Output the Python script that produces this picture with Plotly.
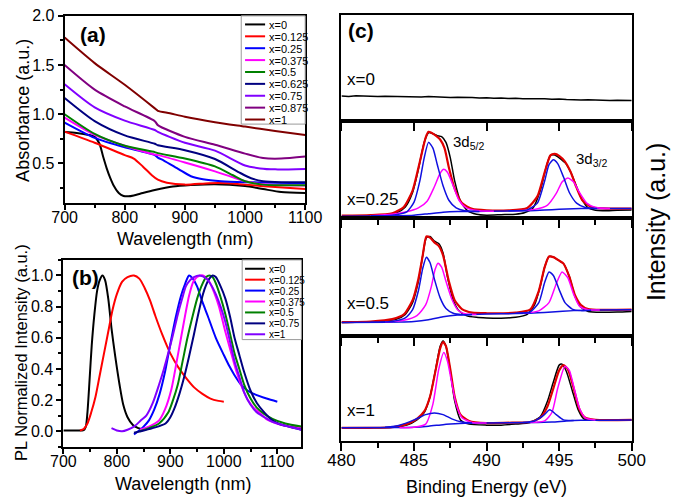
import plotly.graph_objects as go

W, H = 685, 499
FONT = "Arial, 'Liberation Sans', sans-serif"

# ---------------- Panel (a): absorbance ----------------
abs_names = ["x=0", "x=0.125", "x=0.25", "x=0.375", "x=0.5", "x=0.625", "x=0.75", "x=0.875", "x=1"]
abs_colors = ["#000000", "#ff0000", "#0000ff", "#ff00ff", "#008000", "#000080", "#8000ff", "#800080", "#800000"]

abs_wl_0 = [700, 720, 740, 750, 758, 764, 770, 776, 782, 790, 798, 806, 815, 830, 850, 880, 910, 950, 1000, 1030, 1060, 1100]
abs_0 = [0.82, 0.81, 0.79, 0.77, 0.70, 0.57, 0.45, 0.35, 0.27, 0.20, 0.17, 0.166, 0.175, 0.20, 0.23, 0.265, 0.28, 0.29, 0.27, 0.24, 0.21, 0.20]
abs_wl_0125 = [700, 750, 800, 815, 830, 845, 855, 870, 900, 940, 970, 1000, 1050, 1100]
abs_0125 = [0.823, 0.71, 0.585, 0.55, 0.47, 0.38, 0.335, 0.305, 0.285, 0.30, 0.30, 0.285, 0.26, 0.24]
abs_wl_025 = [700, 750, 800, 830, 850, 855, 865, 890, 910, 930, 960, 1000, 1050, 1100]
abs_025 = [0.915, 0.76, 0.665, 0.62, 0.585, 0.56, 0.53, 0.44, 0.37, 0.34, 0.32, 0.31, 0.305, 0.30]
abs_wl_0375 = [700, 750, 800, 850, 855, 900, 950, 980, 1000, 1030, 1060, 1100]
abs_0375 = [0.965, 0.79, 0.68, 0.59, 0.585, 0.51, 0.42, 0.36, 0.32, 0.29, 0.28, 0.275]
abs_wl_05 = [700, 750, 800, 850, 855, 900, 950, 980, 1000, 1030, 1060, 1100]
abs_05 = [1.0, 0.80, 0.68, 0.615, 0.605, 0.55, 0.47, 0.38, 0.32, 0.285, 0.278, 0.278]
abs_wl_0625 = [700, 750, 800, 850, 855, 900, 950, 990, 1010, 1030, 1060, 1100]
abs_0625 = [1.165, 0.93, 0.785, 0.70, 0.685, 0.635, 0.545, 0.41, 0.35, 0.32, 0.31, 0.31]
abs_wl_075 = [700, 750, 800, 850, 855, 900, 950, 1000, 1025, 1050, 1100]
abs_075 = [1.305, 1.07, 0.935, 0.84, 0.82, 0.71, 0.63, 0.48, 0.45, 0.44, 0.445]
abs_wl_0875 = [700, 750, 800, 850, 855, 900, 950, 1000, 1030, 1060, 1100]
abs_0875 = [1.50, 1.25, 1.08, 0.93, 0.89, 0.77, 0.69, 0.60, 0.555, 0.55, 0.57]
abs_wl_1 = [700, 750, 800, 850, 855, 875, 900, 950, 1000, 1050, 1100]
abs_1 = [1.78, 1.52, 1.30, 1.06, 1.035, 1.01, 0.975, 0.92, 0.875, 0.83, 0.79]

abs_series = [(abs_wl_0, abs_0), (abs_wl_0125, abs_0125), (abs_wl_025, abs_025), (abs_wl_0375, abs_0375),
              (abs_wl_05, abs_05), (abs_wl_0625, abs_0625), (abs_wl_075, abs_075), (abs_wl_0875, abs_0875),
              (abs_wl_1, abs_1)]

# ---------------- Panel (b): PL ----------------
pl_names = ["x=0", "x=0.125", "x=0.25", "x=0.375", "x=0.5", "x=0.75", "x=1"]
pl_colors = ["#000000", "#ff0000", "#0000ff", "#ff00ff", "#008000", "#000080", "#8000ff"]

pl_wl_0 = [700, 725, 738, 742, 745, 749, 753, 758, 763, 768, 773, 778, 784, 790, 797, 805, 812, 820, 830, 840, 855]
pl_0 = [0.005, 0.005, 0.008, 0.03, 0.12, 0.33, 0.55, 0.75, 0.9, 0.97, 1.0, 0.97, 0.85, 0.66, 0.48, 0.3, 0.17, 0.09, 0.04, 0.02, 0.01]
pl_wl_0125 = [731, 738, 745, 752, 760, 768, 776, 784, 792, 800, 810, 820, 832, 842, 852, 862, 872, 885, 900, 915, 930, 945, 960, 975, 990, 1000]
pl_0125 = [0.005, 0.015, 0.05, 0.12, 0.22, 0.36, 0.5, 0.64, 0.78, 0.88, 0.96, 0.99, 1.0, 0.98, 0.92, 0.84, 0.74, 0.62, 0.5, 0.41, 0.34, 0.28, 0.24, 0.21, 0.195, 0.19]
pl_wl_025 = [832, 840, 850, 860, 870, 880, 890, 900, 910, 920, 928, 935, 942, 950, 960, 970, 985, 1000, 1010, 1020, 1032, 1045, 1056, 1080, 1100]
pl_025 = [-0.02, 0.0, 0.03, 0.07, 0.14, 0.24, 0.38, 0.56, 0.73, 0.87, 0.95, 1.0, 0.98, 0.93, 0.83, 0.74, 0.6, 0.49, 0.42, 0.36, 0.3, 0.26, 0.24, 0.21, 0.19]
pl_wl_0375 = [843, 860, 879, 890, 902, 912, 920, 928, 935, 943, 950, 961, 973, 982, 991, 1002, 1014, 1023, 1032, 1045, 1056, 1070, 1079, 1095, 1109, 1125, 1145]
pl_0375 = [0.01, 0.03, 0.07, 0.14, 0.27, 0.45, 0.6, 0.75, 0.87, 0.96, 0.99, 1.0, 0.96, 0.89, 0.8, 0.65, 0.5, 0.39, 0.3, 0.2, 0.15, 0.11, 0.08, 0.055, 0.04, 0.03, 0.02]
pl_wl_05 = [843, 860, 879, 896, 905, 914, 923, 932, 941, 950, 958, 967, 973, 979, 985, 994, 1003, 1012, 1020, 1029, 1038, 1050, 1062, 1076, 1091, 1115, 1145]
pl_05 = [0.0, 0.02, 0.05, 0.12, 0.2, 0.3, 0.45, 0.6, 0.73, 0.85, 0.93, 0.99, 1.0, 0.99, 0.95, 0.86, 0.75, 0.62, 0.5, 0.4, 0.3, 0.21, 0.15, 0.11, 0.08, 0.05, 0.03]
pl_wl_075 = [832, 845, 867, 891, 900, 908, 917, 926, 935, 944, 952, 961, 967, 973, 979, 985, 994, 1003, 1012, 1020, 1029, 1038, 1050, 1062, 1076, 1091, 1105, 1121, 1145]
pl_075 = [-0.01, 0.0, 0.02, 0.05, 0.09, 0.15, 0.24, 0.35, 0.48, 0.62, 0.75, 0.88, 0.94, 0.98, 1.0, 0.99, 0.93, 0.85, 0.73, 0.6, 0.49, 0.38, 0.26, 0.18, 0.12, 0.07, 0.045, 0.03, 0.01]
pl_wl_1 = [790, 800, 810, 820, 832, 845, 855, 867, 879, 888, 896, 905, 914, 922, 929, 937, 944, 955, 967, 976, 985, 994, 1003, 1012, 1020, 1029, 1038, 1050, 1062, 1076, 1091, 1105, 1121, 1145]
pl_1 = [0.02, 0.005, 0.0, 0.01, 0.03, 0.07, 0.1, 0.18, 0.3, 0.4, 0.5, 0.62, 0.75, 0.85, 0.93, 0.97, 0.99, 1.0, 0.98, 0.94, 0.88, 0.8, 0.7, 0.57, 0.45, 0.35, 0.25, 0.17, 0.12, 0.09, 0.06, 0.045, 0.03, 0.01]

pl_series = [(pl_wl_0, pl_0), (pl_wl_0125, pl_0125), (pl_wl_025, pl_025), (pl_wl_0375, pl_0375),
             (pl_wl_05, pl_05), (pl_wl_075, pl_075), (pl_wl_1, pl_1)]

# ---------------- Panel (c): XPS (intensity in panel-height units) ----------------
xps_labels = ["x=0", "x=0.25", "x=0.5", "x=1"]

be_x0 = [480 + 0.5 * i for i in range(41)]
int_x0 = [0.236, 0.232, 0.238, 0.234, 0.236, 0.231, 0.235, 0.233, 0.229, 0.232, 0.230, 0.227, 0.231, 0.226,
          0.228, 0.222, 0.225, 0.220, 0.222, 0.218, 0.221, 0.216, 0.219, 0.214, 0.216, 0.211, 0.213, 0.209,
          0.211, 0.206, 0.208, 0.203, 0.205, 0.200, 0.202, 0.198, 0.199, 0.195, 0.197, 0.193, 0.194]

# x = 0.25
be_025_data = [480, 481, 482, 483, 483.8, 484.4, 484.9, 485.3, 485.7, 486.0, 486.3, 486.6, 486.9, 487.2, 487.5, 487.8, 488.2, 488.7, 489.3, 490, 491, 492, 492.6, 493.2, 493.7, 494.1, 494.4, 494.7, 495.0, 495.4, 495.8, 496.2, 496.6, 497.0, 497.5, 498, 499, 500]
int_025_data = [0.010, 0.012, 0.015, 0.025, 0.05, 0.11, 0.26, 0.5, 0.78, 0.88, 0.87, 0.85, 0.84, 0.78, 0.62, 0.38, 0.17, 0.07, 0.035, 0.025, 0.03, 0.035, 0.05, 0.10, 0.28, 0.52, 0.645, 0.65, 0.62, 0.57, 0.47, 0.32, 0.18, 0.10, 0.075, 0.07, 0.075, 0.078]
be_025_fit = [480, 482, 483.5, 484.3, 484.9, 485.4, 485.8, 486.0, 486.2, 486.5, 486.8, 487.1, 487.4, 487.8, 488.3, 489, 490, 491.5, 492.8, 493.5, 494.0, 494.4, 494.7, 495.0, 495.4, 495.8, 496.2, 496.6, 497.2, 498, 500]
int_025_fit = [0.02, 0.025, 0.045, 0.11, 0.28, 0.58, 0.83, 0.89, 0.88, 0.85, 0.81, 0.72, 0.52, 0.30, 0.15, 0.09, 0.075, 0.075, 0.1, 0.22, 0.47, 0.645, 0.66, 0.64, 0.58, 0.47, 0.31, 0.18, 0.11, 0.095, 0.092]
be_025_bg = [480, 484, 485, 486, 487, 488, 490, 493, 494, 495, 496, 497, 500]
int_025_bg = [0.015, 0.02, 0.025, 0.04, 0.055, 0.062, 0.066, 0.072, 0.078, 0.086, 0.092, 0.094, 0.094]
be_025_b1 = [482, 483.5, 484.5, 485.0, 485.4, 485.7, 486.0, 486.3, 486.6, 487.0, 487.4, 487.9, 488.5, 489.5]
int_025_b1 = [0.018, 0.025, 0.06, 0.16, 0.38, 0.62, 0.78, 0.72, 0.55, 0.33, 0.18, 0.1, 0.07, 0.064]
be_025_m1 = [482, 483.5, 484.5, 485.3, 485.9, 486.4, 486.8, 487.05, 487.3, 487.7, 488.1, 488.6, 489.5, 490.5]
int_025_m1 = [0.02, 0.035, 0.06, 0.1, 0.17, 0.32, 0.46, 0.50, 0.47, 0.33, 0.18, 0.1, 0.07, 0.066]
be_025_b2 = [491.5, 492.8, 493.5, 494.0, 494.3, 494.6, 494.9, 495.3, 495.7, 496.2, 496.8, 497.6]
int_025_b2 = [0.07, 0.08, 0.15, 0.38, 0.55, 0.60, 0.56, 0.42, 0.26, 0.15, 0.105, 0.094]
be_025_m2 = [492, 493.3, 494.2, 494.8, 495.2, 495.6, 496.0, 496.4, 496.9, 497.5, 498.5]
int_025_m2 = [0.072, 0.085, 0.13, 0.25, 0.37, 0.41, 0.37, 0.26, 0.15, 0.105, 0.094]

# x = 0.5
be_05_data = [480, 481, 482, 483, 483.8, 484.4, 484.9, 485.3, 485.6, 485.85, 486.1, 486.4, 486.7, 487.0, 487.3, 487.7, 488.1, 488.6, 489.3, 490, 491, 492, 492.8, 493.3, 493.7, 494.0, 494.3, 494.6, 495.0, 495.3, 495.7, 496.1, 496.5, 497, 498, 499, 500]
int_05_data = [0.112, 0.113, 0.115, 0.12, 0.14, 0.18, 0.28, 0.46, 0.68, 0.83, 0.84, 0.80, 0.78, 0.70, 0.50, 0.30, 0.21, 0.17, 0.155, 0.15, 0.148, 0.155, 0.18, 0.26, 0.42, 0.58, 0.67, 0.665, 0.635, 0.61, 0.5, 0.33, 0.24, 0.205, 0.198, 0.20, 0.205]
be_05_fit = [480, 482, 483.5, 484.3, 484.9, 485.3, 485.6, 485.85, 486.1, 486.4, 486.7, 487.0, 487.4, 487.8, 488.3, 489, 490, 492, 493, 493.6, 494.0, 494.3, 494.6, 495.0, 495.3, 495.7, 496.1, 496.5, 497, 498, 500]
int_05_fit = [0.114, 0.12, 0.14, 0.18, 0.3, 0.48, 0.68, 0.84, 0.83, 0.79, 0.76, 0.68, 0.46, 0.3, 0.225, 0.195, 0.19, 0.195, 0.22, 0.38, 0.58, 0.67, 0.665, 0.635, 0.61, 0.5, 0.34, 0.26, 0.225, 0.218, 0.22]
be_05_bg = [480, 484, 485, 486, 487, 488, 489, 491, 493, 494.5, 496, 497, 500]
int_05_bg = [0.112, 0.115, 0.12, 0.135, 0.16, 0.175, 0.18, 0.185, 0.19, 0.2, 0.212, 0.218, 0.22]
be_05_b1 = [482, 483.5, 484.4, 484.9, 485.3, 485.6, 485.85, 486.1, 486.4, 486.8, 487.2, 487.7, 488.3, 489]
int_05_b1 = [0.113, 0.12, 0.15, 0.22, 0.38, 0.57, 0.664, 0.62, 0.48, 0.32, 0.23, 0.19, 0.178, 0.18]
be_05_m1 = [483, 484.3, 485.2, 485.8, 486.2, 486.45, 486.65, 486.9, 487.2, 487.6, 488.0, 488.5, 489.3]
int_05_m1 = [0.115, 0.13, 0.17, 0.26, 0.42, 0.56, 0.614, 0.58, 0.46, 0.31, 0.22, 0.185, 0.18]
be_05_b2 = [492, 493, 493.6, 494.0, 494.3, 494.6, 495.0, 495.4, 495.9, 496.5, 497.2]
int_05_b2 = [0.19, 0.2, 0.28, 0.45, 0.54, 0.51, 0.39, 0.28, 0.225, 0.212, 0.216]
be_05_m2 = [492.5, 493.6, 494.3, 494.8, 495.2, 495.6, 496.0, 496.4, 497, 497.8]
int_05_m2 = [0.19, 0.21, 0.28, 0.44, 0.54, 0.49, 0.35, 0.25, 0.22, 0.218]

# x = 1
be_1_data = [480, 482, 483.5, 484.5, 485.2, 485.7, 486.1, 486.5, 486.8, 487.0, 487.2, 487.5, 487.8, 488.2, 488.8, 490, 491, 492, 493, 493.7, 494.2, 494.6, 495.0, 495.2, 495.5, 495.9, 496.3, 496.7, 497.5, 500]
int_1_data = [0.125, 0.125, 0.13, 0.15, 0.2, 0.27, 0.42, 0.69, 0.9, 0.95, 0.9, 0.66, 0.38, 0.2, 0.16, 0.15, 0.15, 0.16, 0.175, 0.23, 0.38, 0.56, 0.72, 0.73, 0.66, 0.48, 0.3, 0.21, 0.2, 0.2]
be_1_fit = [480, 482, 483.5, 484.5, 485.2, 485.7, 486.1, 486.5, 486.8, 487.0, 487.2, 487.5, 487.8, 488.2, 488.8, 490, 492, 493, 493.7, 494.2, 494.6, 495.0, 495.3, 495.6, 496.0, 496.4, 496.8, 497.5, 500]
int_1_fit = [0.125, 0.125, 0.13, 0.16, 0.21, 0.28, 0.42, 0.68, 0.88, 0.94, 0.9, 0.68, 0.42, 0.25, 0.19, 0.17, 0.175, 0.18, 0.22, 0.33, 0.5, 0.67, 0.72, 0.68, 0.5, 0.3, 0.22, 0.2, 0.2]
be_1_bg = [480, 484, 485, 486, 487, 487.5, 488.5, 490, 493, 494.5, 495.5, 496.5, 500]
int_1_bg = [0.125, 0.127, 0.13, 0.14, 0.155, 0.16, 0.168, 0.17, 0.175, 0.18, 0.19, 0.196, 0.2]
be_1_b1 = [483, 484, 485, 485.8, 486.4, 487, 487.6, 488.3, 489]
int_1_b1 = [0.13, 0.15, 0.2, 0.25, 0.265, 0.25, 0.21, 0.18, 0.17]
be_1_m1 = [484, 485, 485.8, 486.3, 486.7, 487.05, 487.3, 487.6, 487.9, 488.3, 489, 490]
int_1_m1 = [0.125, 0.13, 0.16, 0.35, 0.68, 0.84, 0.76, 0.55, 0.35, 0.22, 0.175, 0.17]
be_1_b2 = [492.5, 493.3, 493.9, 494.35, 494.8, 495.3, 496]
int_1_b2 = [0.175, 0.19, 0.24, 0.296, 0.25, 0.2, 0.195]
be_1_m2 = [493, 494, 494.5, 494.9, 495.4, 495.7, 496.0, 496.4, 496.8, 497.5]
int_1_m2 = [0.175, 0.19, 0.27, 0.5, 0.71, 0.67, 0.52, 0.31, 0.22, 0.2]


def px(x):
    return x / W


def py(y):
    return 1 - y / H


fig = go.Figure()

# panel (a)
for (xs, ys), c in zip(abs_series, abs_colors):
    fig.add_trace(go.Scatter(x=xs, y=ys, mode="lines", xaxis="x", yaxis="y",
                             line=dict(color=c, width=2, shape="spline", smoothing=0.7)))
# panel (b)
for (xs, ys), c in zip(pl_series, pl_colors):
    fig.add_trace(go.Scatter(x=xs, y=ys, mode="lines", xaxis="x2", yaxis="y2",
                             line=dict(color=c, width=2, shape="spline", smoothing=0.7)))

# panel (c)
fig.add_trace(go.Scatter(x=be_x0, y=int_x0, mode="lines", xaxis="x3", yaxis="y3",
                         line=dict(color="#000000", width=1.5)))

xps_sets = [
    ("x4", "y4", (be_025_data, int_025_data), (be_025_fit, int_025_fit), (be_025_bg, int_025_bg),
     [(be_025_m1, int_025_m1), (be_025_m2, int_025_m2)], [(be_025_b1, int_025_b1), (be_025_b2, int_025_b2)]),
    ("x5", "y5", (be_05_data, int_05_data), (be_05_fit, int_05_fit), (be_05_bg, int_05_bg),
     [(be_05_m1, int_05_m1), (be_05_m2, int_05_m2)], [(be_05_b1, int_05_b1), (be_05_b2, int_05_b2)]),
    ("x6", "y6", (be_1_data, int_1_data), (be_1_fit, int_1_fit), (be_1_bg, int_1_bg),
     [(be_1_m1, int_1_m1), (be_1_m2, int_1_m2)], [(be_1_b1, int_1_b1), (be_1_b2, int_1_b2)]),
]
for xa, ya, data, fit, bg, mags, blues in xps_sets:
    fig.add_trace(go.Scatter(x=data[0], y=data[1], mode="lines", xaxis=xa, yaxis=ya,
                             line=dict(color="#000000", width=1.5, shape="spline", smoothing=0.6)))
    fig.add_trace(go.Scatter(x=fit[0], y=fit[1], mode="lines", xaxis=xa, yaxis=ya,
                             line=dict(color="#e00000", width=2.2, shape="spline", smoothing=0.6)))
    fig.add_trace(go.Scatter(x=bg[0], y=bg[1], mode="lines", xaxis=xa, yaxis=ya,
                             line=dict(color="#1010e0", width=1.5, shape="spline", smoothing=0.6)))
    for xs, ys in mags:
        fig.add_trace(go.Scatter(x=xs, y=ys, mode="lines", xaxis=xa, yaxis=ya,
                                 line=dict(color="#ff00ff", width=1.5, shape="spline", smoothing=0.6)))
    for xs, ys in blues:
        fig.add_trace(go.Scatter(x=xs, y=ys, mode="lines", xaxis=xa, yaxis=ya,
                                 line=dict(color="#1010e0", width=1.5, shape="spline", smoothing=0.6)))


def ax(**kw):
    d = dict(showline=True, linecolor="black", linewidth=2, mirror=True, showgrid=False,
             zeroline=False, ticks="outside", tickcolor="black", tickwidth=1.5, ticklen=5,
             ticklabeloverflow="allow",
             tickfont=dict(family=FONT, size=16, color="black"))
    d.update(kw)
    return d


minor_ab = dict(ticks="outside", ticklen=3, tickcolor="black", tickwidth=1.5)
xc_dom = [px(343), px(647)]

layout = dict(
    width=W, height=H, margin=dict(l=0, r=0, t=0, b=0),
    paper_bgcolor="white", plot_bgcolor="white", showlegend=False,
    font=dict(family=FONT, color="black"),
    xaxis=ax(domain=[px(53), px(305)], anchor="y", range=[700, 1100], tick0=700, dtick=100,
             ticklabelstandoff=-6, minor=dict(dtick=50, **minor_ab)),
    yaxis=ax(domain=[py(198), py(8)], anchor="x", range=[0.1, 2.0], tick0=0, dtick=0.5, tickformat=".1f",
             minor=dict(dtick=0.25, **minor_ab)),
    xaxis2=ax(domain=[px(51.7), px(301)], anchor="y2", range=[700, 1145], tick0=700, dtick=100,
              ticklabelstandoff=-6, minor=dict(dtick=50, **minor_ab)),
    yaxis2=ax(domain=[py(446), py(256)], anchor="x2", range=[-0.1, 1.1], tick0=0, dtick=0.2, tickformat=".1f",
              minor=dict(dtick=0.1, **minor_ab)),
)
c_doms = [(7, 115), (115, 213), (213, 333), (333, 440)]
for i, (top, bot) in enumerate(c_doms):
    n = i + 3
    xkw = dict(domain=xc_dom, anchor=f"y{n}", range=[480, 500], tick0=480, dtick=5, ticklen=8,
               showticklabels=(n == 6), tickfont=dict(family=FONT, size=17, color="black"))
    if n > 3:
        xkw["minor"] = dict(dtick=2.5, ticks="outside", ticklen=5, tickcolor="black", tickwidth=1.5)
    if n == 6:
        xkw["ticklabelstandoff"] = -5
    layout[f"xaxis{n}"] = ax(**xkw)
    layout[f"yaxis{n}"] = ax(domain=[py(bot), py(top)], anchor=f"x{n}", range=[0, 1], ticks="",
                             showticklabels=False)

fig.update_layout(**layout)

ann = []
shapes = []


def text(x, y, s, size, **kw):
    d = dict(x=px(x), y=py(y), xref="paper", yref="paper", text=s, showarrow=False,
             font=dict(family=FONT, size=size, color="black"), xanchor="center", yanchor="middle")
    d.update(kw)
    ann.append(d)


# panel labels
text(83, 27, "<b>(a)</b>", 21)
text(75, 274, "<b>(b)</b>", 21)
text(363, 23, "<b>(c)</b>", 21)
# axis titles
text(10, 104, "Absorbance (a.u.)", 18, textangle=-90)
text(179, 235, "Wavelength (nm)", 18)
text(8, 350, "PL Normalized Intensity (a.u.)", 16.5, textangle=-90)
text(177, 484, "Wavelength (nm)", 18)
text(495, 487, "Binding Energy (eV)", 18)
text(672, 218, "Intensity (a.u.)", 25, textangle=-90)
# XPS panel labels
for lab, yy in zip(xps_labels, [73, 195, 300, 409]):
    text(347, yy, lab, 17, xanchor="left")
text(458, 137, "3d<sub>5/2</sub>", 15, xanchor="left")
text(587, 154, "3d<sub>3/2</sub>", 15, xanchor="left")

# legends (drawn as boxes with sample lines)
shapes.append(dict(type="rect", xref="paper", yref="paper", x0=px(238), x1=px(305), y0=py(118), y1=py(8),
                   line=dict(color="#999999", width=1), fillcolor="white", layer="above"))
for i, (nm, c) in enumerate(zip(abs_names, abs_colors)):
    yy = 16.7 + 12.08 * i
    shapes.append(dict(type="line", xref="paper", yref="paper", x0=px(242), x1=px(263), y0=py(yy), y1=py(yy),
                       line=dict(color=c, width=2), layer="above"))
    text(266, yy, nm, 11, xanchor="left", height=11, borderpad=0)
shapes.append(dict(type="rect", xref="paper", yref="paper", x0=px(239), x1=px(301), y0=py(337), y1=py(256),
                   line=dict(color="#999999", width=1), fillcolor="white", layer="above"))
for i, (nm, c) in enumerate(zip(pl_names, pl_colors)):
    yy = 265 + 11.1 * i
    shapes.append(dict(type="line", xref="paper", yref="paper", x0=px(242), x1=px(263), y0=py(yy), y1=py(yy),
                       line=dict(color=c, width=2), layer="above"))
    text(266, yy, nm, 10, xanchor="left", height=10, borderpad=0)

fig.update_layout(annotations=ann, shapes=shapes)
fig.write_html("out.html", config={"displayModeBar": False},
               post_script="document.body.style.margin='0px';document.body.style.overflow='hidden';")
